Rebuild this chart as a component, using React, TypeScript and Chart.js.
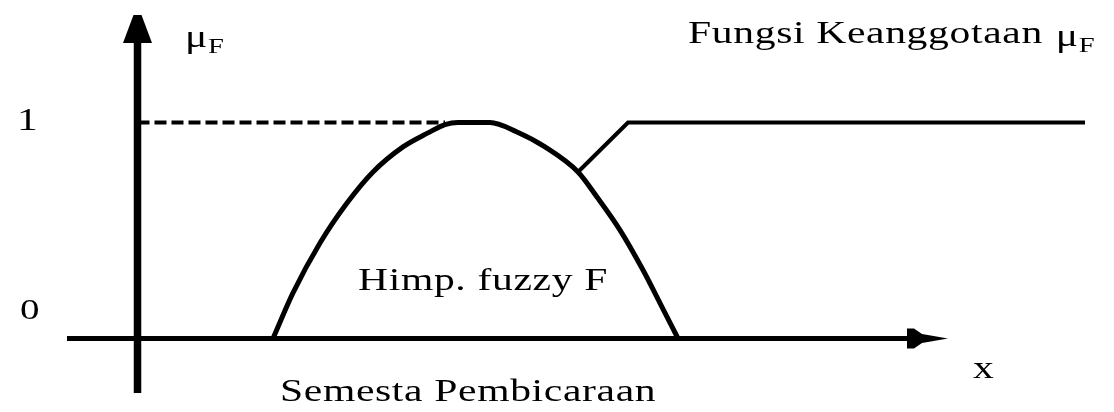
import React, { useEffect, useRef } from "react";
import { Chart, registerables } from "chart.js";

Chart.register(...registerables);

// Fuzzy set F over the universe of discourse: x position and membership degree μ
const fuzzySetX = [13.55, 15.55, 18.25, 20.95, 23.55, 26.55, 29.05, 30.75, 32.05, 35.25, 37.95, 40.75, 44.05, 45.95, 48.25, 50.55, 52.25, 54.05];
const fuzzySetMu = [0, 0.211, 0.442, 0.627, 0.771, 0.887, 0.952, 0.99, 1, 1, 0.956, 0.887, 0.771, 0.655, 0.502, 0.317, 0.164, 0];

// Pointer line from the curve up to the μ = 1 level, labelled "Fungsi Keanggotaan μF"
const pointerX = [44.05, 49.05, 94.75];
const pointerMu = [0.771, 1, 1];

// Dashed guide at full membership
const fullMembershipX = [0, 30.75];
const fullMembershipMu = [1, 1];

// Axis extents (x from/tip, μ from/tip)
const xAxisRange = [-7.05, 81.05];
const yAxisRange = [-0.252, 1.498];

// Tick labels on the μ axis
const yTickLabels = ["1", "0"];

// Texts
const axisSymbol = "μ";
const axisSubscript = "F";
const titleText = "Fungsi Keanggotaan";
const setLabel = "Himp. fuzzy F";
const universeLabel = "Semesta Pembicaraan";
const xLabel = "x";

// Label anchors (data units: x, μ) — left edge / baseline
const labelAnchors = {
  mu: [4.75, 1.3495],
  tick1: [-12.05, 0.9653],
  tick0: [-11.75, 0.0903],
  title: [55.05, 1.368],
  set: [22.05, 0.2245],
  universe: [14.25, -0.2894],
  x: [83.55, -0.1829],
};

const FONT = '"Liberation Serif", "Times New Roman", serif';
const STRETCH = 1.3;

function drawText(ctx: CanvasRenderingContext2D, text: string, px: number, py: number, size: number): number {
  ctx.save();
  ctx.font = `${size}px ${FONT}`;
  (ctx as any).letterSpacing = "0.5px";
  ctx.textAlign = "left";
  ctx.textBaseline = "alphabetic";
  ctx.translate(px, py);
  ctx.scale(STRETCH, 1);
  ctx.fillText(text, 0, 0);
  const w = ctx.measureText(text).width * STRETCH;
  ctx.restore();
  return w;
}

const axesPlugin = {
  id: "fuzzyAxes",
  beforeDatasetsDraw(chart: any) {
    const { ctx, scales } = chart;
    const xs = scales.x;
    const ys = scales.y;
    const x0 = xs.getPixelForValue(0);
    const y0 = ys.getPixelForValue(0);
    ctx.save();
    ctx.strokeStyle = "#000";
    ctx.fillStyle = "#000";
    ctx.lineCap = "butt";

    // vertical μ axis
    const yTop = ys.getPixelForValue(yAxisRange[1]);
    const yBottom = ys.getPixelForValue(yAxisRange[0]);
    ctx.lineWidth = 7.5;
    ctx.beginPath();
    ctx.moveTo(x0, yBottom);
    ctx.lineTo(x0, yTop + 20);
    ctx.stroke();
    ctx.beginPath();
    ctx.moveTo(x0 - 4, yTop);
    ctx.lineTo(x0 + 4, yTop);
    ctx.lineTo(x0 + 14.5, yTop + 28);
    ctx.lineTo(x0 - 14.5, yTop + 28);
    ctx.closePath();
    ctx.fill();

    // horizontal x axis
    const xLeft = xs.getPixelForValue(xAxisRange[0]);
    const xTip = xs.getPixelForValue(xAxisRange[1]);
    ctx.lineWidth = 5;
    ctx.beginPath();
    ctx.moveTo(xLeft, y0);
    ctx.lineTo(xTip - 30, y0);
    ctx.stroke();
    ctx.beginPath();
    ctx.moveTo(xTip, y0);
    ctx.lineTo(xTip - 26, y0 - 4.5);
    ctx.lineTo(xTip - 34, y0 - 10);
    ctx.lineTo(xTip - 41, y0 - 10);
    ctx.lineTo(xTip - 41, y0 + 10);
    ctx.lineTo(xTip - 34, y0 + 10);
    ctx.lineTo(xTip - 26, y0 + 4.5);
    ctx.closePath();
    ctx.fill();
    ctx.restore();
  },
  afterDatasetsDraw(chart: any) {
    const { ctx, scales } = chart;
    const xs = scales.x;
    const ys = scales.y;
    const at = (p: number[]) => [xs.getPixelForValue(p[0]), ys.getPixelForValue(p[1])];
    ctx.save();
    ctx.fillStyle = "#000";

    // μ axis name
    const [mx, my] = at(labelAnchors.mu);
    const mw = drawText(ctx, axisSymbol, mx, my, 32);
    drawText(ctx, axisSubscript, mx + mw, my + 6, 22);

    // tick labels
    const [t1x, t1y] = at(labelAnchors.tick1);
    drawText(ctx, yTickLabels[0], t1x, t1y, 32);
    const [t0x, t0y] = at(labelAnchors.tick0);
    drawText(ctx, yTickLabels[1], t0x, t0y, 30);

    // membership function title
    const [tx, ty] = at(labelAnchors.title);
    const tw = drawText(ctx, titleText, tx, ty, 32);
    const gap = 13;
    const uw = drawText(ctx, axisSymbol, tx + tw + gap, ty + 3, 32);
    drawText(ctx, axisSubscript, tx + tw + gap + uw, ty + 9, 22);

    // set and universe names
    const [sx, sy] = at(labelAnchors.set);
    drawText(ctx, setLabel, sx, sy, 32);
    const [ux, uy] = at(labelAnchors.universe);
    drawText(ctx, universeLabel, ux, uy, 32);
    const [xx, xy] = at(labelAnchors.x);
    drawText(ctx, xLabel, xx, xy, 32);

    ctx.restore();
  },
};

export default function App() {
  const canvasRef = useRef<HTMLCanvasElement | null>(null);

  useEffect(() => {
    const canvas = canvasRef.current;
    if (!canvas) return;
    const toPoints = (xs: number[], ys: number[]) => xs.map((x, i) => ({ x, y: ys[i] }));

    const chart = new Chart(canvas, {
      type: "scatter",
      data: {
        datasets: [
          {
            label: "Himp. fuzzy F",
            data: toPoints(fuzzySetX, fuzzySetMu),
            showLine: true,
            borderColor: "#000",
            borderWidth: 5,
            pointRadius: 0,
            cubicInterpolationMode: "monotone",
            borderJoinStyle: "round",
            clip: false,
          },
          {
            label: "Fungsi Keanggotaan",
            data: toPoints(pointerX, pointerMu),
            showLine: true,
            borderColor: "#000",
            borderWidth: 4,
            pointRadius: 0,
            tension: 0,
            clip: false,
          },
          {
            label: "μ = 1",
            data: toPoints(fullMembershipX, fullMembershipMu),
            showLine: true,
            borderColor: "#000",
            borderWidth: 4,
            borderDash: [12, 5],
            pointRadius: 0,
            clip: false,
          },
        ],
      },
      options: {
        responsive: false,
        animation: false,
        events: [],
        layout: { padding: 0 },
        plugins: {
          legend: { display: false },
          title: { display: false },
          tooltip: { enabled: false },
        },
        scales: {
          x: { type: "linear", display: false, min: -13.75, max: 97.65 },
          y: { type: "linear", display: false, min: -0.34028, max: 1.56713 },
        },
      },
      plugins: [axesPlugin],
    });

    return () => chart.destroy();
  }, []);

  return (
    <div style={{ position: "fixed", left: 0, top: 0, width: 1114, height: 412, background: "#fff" }}>
      <canvas ref={canvasRef} width={1114} height={412} style={{ width: 1114, height: 412, display: "block" }} />
    </div>
  );
}
